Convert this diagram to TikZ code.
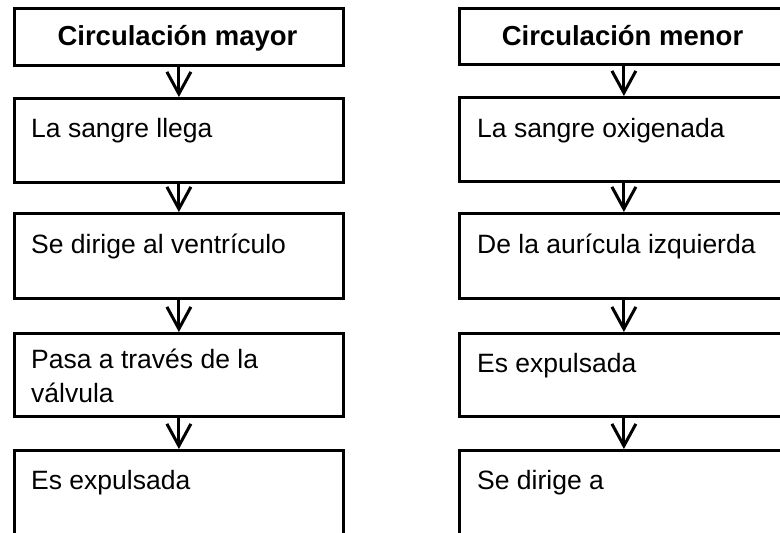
\documentclass[tikz,border=0pt]{standalone}
\usepackage{fontspec}
\setmainfont{Liberation Sans}
\usetikzlibrary{arrows.meta,calc}
\begin{document}
\begin{tikzpicture}[x=1pt,y=-1pt,
  box/.style={draw=black, line width=2.8pt, rectangle, inner sep=0pt, anchor=north west, minimum width=329pt},
  lbl/.style={anchor=base west, inner sep=0pt, font=\fontsize{26.5}{34}\selectfont, align=left},
  ttl/.style={anchor=base, inner sep=0pt, font=\fontsize{27.5}{33}\selectfont\bfseries},
  flow/.style={line width=3pt, -{Straight Barb[length=22pt,width=24pt]}}]
\useasboundingbox (0,0) rectangle (780,533);
\fill[white] (0,0) rectangle (780,533);
\clip (0,0) rectangle (780,533);
% left column
\node[box, minimum height=57pt] (L0) at (13,7) {};
\node[box, minimum height=84pt] (L1) at (13,97) {};
\node[box, minimum height=85pt] (L2) at (13,212) {};
\node[box, minimum height=83pt] (L3) at (13,332) {};
\node[box, minimum height=100pt] (L4) at (13,449) {};
\node[ttl] (L0t) at (177.5,45) {Circulación mayor};
\node[lbl] (L1t) at (31,137) {La sangre llega};
\node[lbl] (L2t) at (31,253) {Se dirige al ventrículo};
\node[lbl] (L3t) at (31,402) {Pasa a través de la\\válvula};
\node[lbl] (L4t) at (31,489) {Es expulsada};
\draw[flow] (L0.south) -- (L1.north);
\draw[flow] (L1.south) -- (L2.north);
\draw[flow] (L2.south) -- (L3.north);
\draw[flow] (L3.south) -- (L4.north);
% right column
\node[box, minimum height=56pt] (R0) at (458,7) {};
\node[box, minimum height=84pt] (R1) at (458,96) {};
\node[box, minimum height=85pt] (R2) at (458,212) {};
\node[box, minimum height=83pt] (R3) at (458,332) {};
\node[box, minimum height=100pt] (R4) at (458,449) {};
\node[ttl] (R0t) at (622.5,45) {Circulación menor};
\node[lbl] (R1t) at (477,137) {La sangre oxigenada};
\node[lbl] (R2t) at (477,253) {De la aurícula izquierda};
\node[lbl] (R3t) at (477,372) {Es expulsada};
\node[lbl] (R4t) at (477,489) {Se dirige a};
\draw[flow] (R0.south) -- (R1.north);
\draw[flow] (R1.south) -- (R2.north);
\draw[flow] (R2.south) -- (R3.north);
\draw[flow] (R3.south) -- (R4.north);
\end{tikzpicture}
\end{document}
